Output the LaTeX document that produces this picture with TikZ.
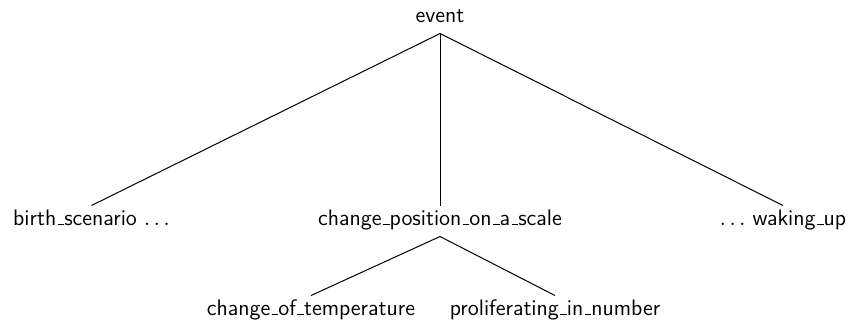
\documentclass[tikz,border=0pt]{standalone}
\usetikzlibrary{positioning}
\tikzset{every picture/.style={line width=0.5pt}}
\tikzset{leaf/.style={anchor=base, inner sep=3pt, text height=6.5pt, text depth=2.5pt}}
% short underscore, as in the old OT1 fonts
\newcommand{\us}{\leavevmode\kern.06em\vbox{\hrule width.3em}}

\begin{document}
\begin{tikzpicture}[x=0.5pt, y=-0.5pt, font=\sffamily\fontsize{11.2}{13}\selectfont]
    \useasboundingbox (0,0) rectangle (857,323);

    \node[leaf] (event) at (440,22) {event};

    \node[leaf] (scale) at (440,225) {change\us position\us on\us a\us scale};
    \node[leaf] (birth) at (91.5,225) {birth\us scenario $\ldots$};
    \node[leaf] (waking) at (783,225) {$\ldots$ waking\us up};

    \node[leaf] (temp) at (311,315) {change\us of\us temperature};
    \node[leaf] (prolif) at (555,315) {proliferating\us in\us number};

    \draw (event.south) -- (birth.north);
    \draw (event.south) -- (scale.north);
    \draw (event.south) -- (waking.north);
    \draw (scale.south) -- (temp.north);
    \draw (scale.south) -- (prolif.north);
\end{tikzpicture}
\end{document}
